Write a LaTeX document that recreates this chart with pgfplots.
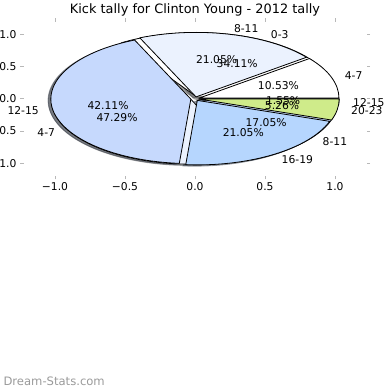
\documentclass[border=0pt]{standalone}
\usepackage{fontspec}
\setmainfont{DejaVu Sans}
\usepackage{pgfplots}
\pgfplotsset{compat=1.18}
\usetikzlibrary{calc}

\definecolor{cwhite}{HTML}{FFFFFF}
\definecolor{cpale}{HTML}{EBF2FE}
\definecolor{clight}{HTML}{C6D9FD}
\definecolor{cblue}{HTML}{B6D6FE}
\definecolor{cgreen}{HTML}{CFEB8A}
\definecolor{tickgray}{HTML}{B8B8B8}
\definecolor{wmgray}{HTML}{9A9A9A}

\newcommand\ex{0.03}
\newcommand\RX{140bp}
\newcommand\RY{64.5bp}
\newcommand\lbfont{\fontsize{10.75bp}{12bp}\selectfont}

% #1 total, #2 mode (0 shadow, 1 wedge, 2 text), #3 list count/colour/label/percent
\newcommand\piepass[3]{%
  \xdef\cum{0}%
  \foreach \v/\col/\lab/\pct in {#3}{%
    \pgfmathsetmacro\aA{-(\cum+\v)/#1*360}%
    \pgfmathsetmacro\aB{-\cum/#1*360}%
    \pgfmathsetmacro\am{-(\cum+\v/2)/#1*360}%
    \pgfmathsetmacro\cx{\ex*cos(\am)}%
    \pgfmathsetmacro\cy{\ex*sin(\am)}%
    \ifcase#2\relax
      \pgfmathsetmacro\cx{\cx-0.02}\pgfmathsetmacro\cy{\cy-0.02}%
      \pgfmathsetmacro\sx{\cx+cos(\aA)}\pgfmathsetmacro\sy{\cy+sin(\aA)}%
      \edef\temp{\noexpand\filldraw[fill=\col!30!black, draw=\col!30!black, opacity=0.45, line width=0.8bp] (axis cs:\cx,\cy) -- (axis cs:\sx,\sy) arc[start angle=\aA, end angle=\aB, x radius=\RX, y radius=\RY] -- cycle;}\temp
    \or
      \pgfmathsetmacro\sx{\cx+cos(\aA)}\pgfmathsetmacro\sy{\cy+sin(\aA)}%
      \edef\temp{\noexpand\filldraw[fill=\col, draw=black, line width=0.8bp, line join=round] (axis cs:\cx,\cy) -- (axis cs:\sx,\sy) arc[start angle=\aA, end angle=\aB, x radius=\RX, y radius=\RY] -- cycle;}\temp
    \or
      \pgfmathsetmacro\lx{\cx+1.1*cos(\am)}\pgfmathsetmacro\ly{\cy+1.1*sin(\am)}%
      \pgfmathsetmacro\px{\cx+0.6*cos(\am)}\pgfmathsetmacro\py{\cy+0.6*sin(\am)}%
      \ifdim\lx pt>0pt \def\anc{west}\else\def\anc{east}\fi
      \edef\temp{\noexpand\node[font=\noexpand\lbfont, anchor=\anc, inner sep=0pt] at (axis cs:\lx,\ly) {\unexpanded\expandafter{\lab}};
        \noexpand\node[font=\noexpand\lbfont, inner sep=0pt] at (axis cs:\px,\py) {\unexpanded\expandafter{\pct}};}\temp
    \fi
    \pgfmathsetmacro\nc{\cum+\v}\xdef\cum{\nc}%
  }%
}

\newcommand\pieB{2/cblue/12-15/1.55\%, 22/clight/8-11/17.05\%, 61/cpale/4-7/47.29\%, 44/cwhite/0-3/34.11\%}
\newcommand\pieA{1/cgreen/20-23/5.26\%, 4/cblue/16-19/21.05\%, 8/clight/12-15/42.11\%, 4/cpale/8-11/21.05\%, 2/cwhite/4-7/10.53\%}

\begin{document}
\begin{tikzpicture}
\begin{axis}[
  scale only axis, width=350bp, height=161.25bp,
  xmin=-1.25, xmax=1.25, ymin=-1.25, ymax=1.25,
  clip=false,
  axis line style={draw=none},
  xtick pos=both, ytick pos=both,
  xticklabel pos=lower, yticklabel pos=left,
  tick align=inside,
  major tick length=3.5bp,
  tick style={draw=tickgray, line width=0.9bp},
  xtick={-1,-0.5,0,0.5,1},
  ytick={-1,-0.5,0,0.5,1},
  xticklabels={−1.0,−0.5,0.0,0.5,1.0},
  yticklabels={−1.0,−0.5,0.0,0.5,1.0},
  ticklabel style={font=\lbfont},
]
\expandafter\piepass\expandafter{\expandafter1\expandafter2\expandafter9\expandafter}\expandafter{\expandafter0\expandafter}\expandafter{\pieB}
\expandafter\piepass\expandafter{\expandafter1\expandafter9\expandafter}\expandafter{\expandafter0\expandafter}\expandafter{\pieA}
\expandafter\piepass\expandafter{\expandafter1\expandafter2\expandafter9\expandafter}\expandafter{\expandafter1\expandafter}\expandafter{\pieB}
\expandafter\piepass\expandafter{\expandafter1\expandafter9\expandafter}\expandafter{\expandafter1\expandafter}\expandafter{\pieA}
\expandafter\piepass\expandafter{\expandafter1\expandafter2\expandafter9\expandafter}\expandafter{\expandafter2\expandafter}\expandafter{\pieB}
\expandafter\piepass\expandafter{\expandafter1\expandafter9\expandafter}\expandafter{\expandafter2\expandafter}\expandafter{\pieA}
\node[anchor=base, font=\fontsize{12.9bp}{14bp}\selectfont, yshift=4.5bp] at (rel axis cs:0.5,1) {Kick tally for Clinton Young - 2012 tally};
\coordinate (O) at (rel axis cs:0,0);
\end{axis}
\node[anchor=base west, text=wmgray, font=\fontsize{11.6bp}{13bp}\selectfont] at ($(O)+(-20bp,-206.1bp)$) {Dream-Stats.com};
\pgfresetboundingbox
\path[use as bounding box] ($(O)+(-20bp,-210.6bp)$) rectangle ++(390bp,390bp);
\end{tikzpicture}
\end{document}
